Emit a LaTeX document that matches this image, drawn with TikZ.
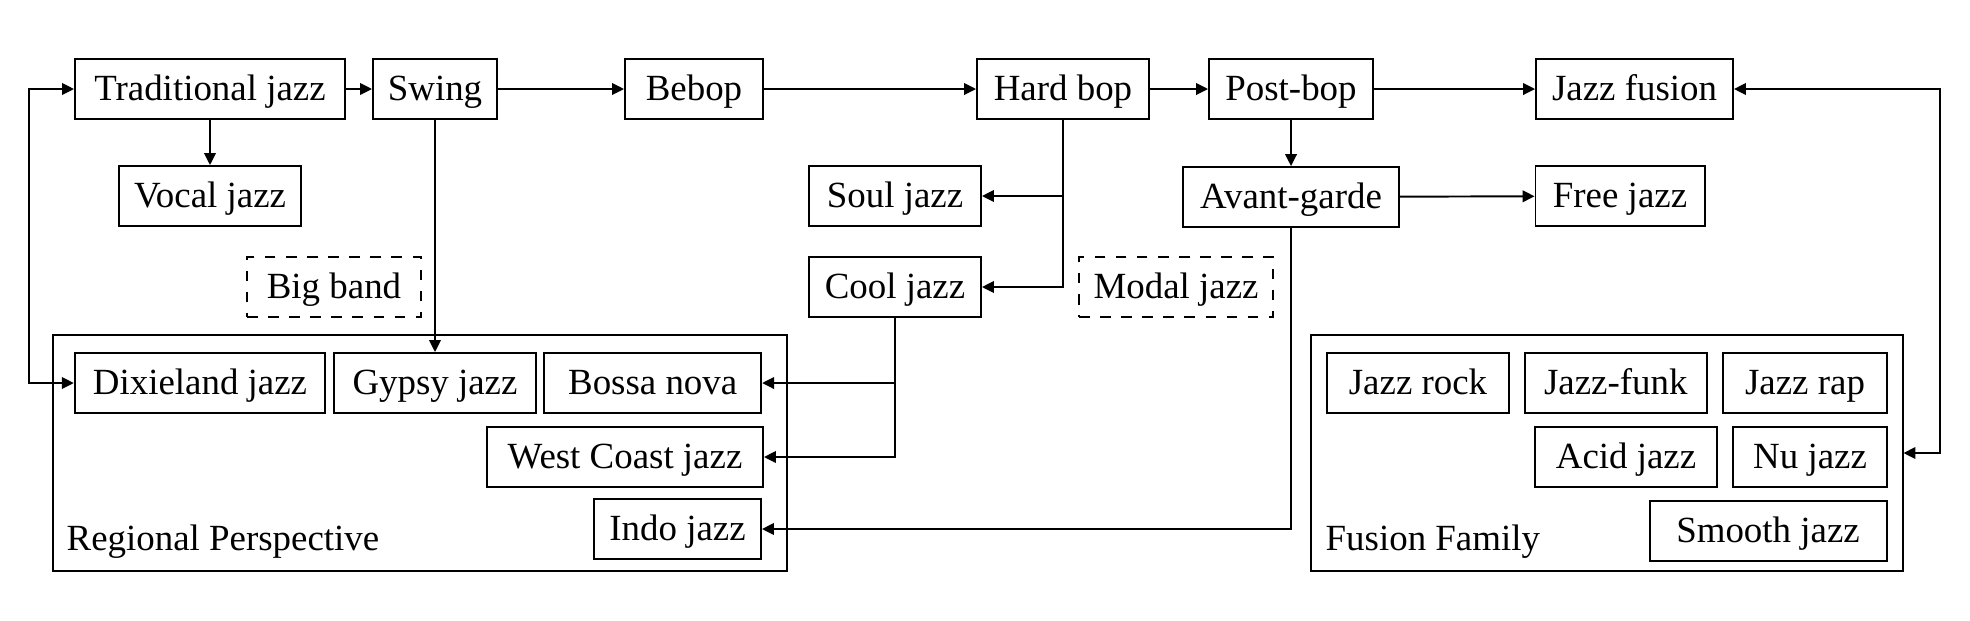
\documentclass[tikz,border=0pt]{standalone}
\usepackage{fontspec}
\setmainfont{Liberation Serif}
\usetikzlibrary{arrows.meta}

\begin{document}
\begin{tikzpicture}[
  genre/.style={draw, line width=0.55pt, minimum height=0.6cm, inner sep=0pt,
                text height=0.66em, text depth=0pt, font=\fontsize{10.5}{12}\selectfont},
  faint/.style={genre, dashed},
  family/.style={draw, line width=0.55pt, inner sep=0pt, minimum height=2.36cm},
  grouplabel/.style={anchor=base west, inner sep=0pt, font=\fontsize{10.5}{12}\selectfont},
  arrow/.style={-{Triangle[length=3.4pt,width=3.3pt]}, line width=0.55pt},
  twoway/.style={{Triangle[length=3.4pt,width=3.3pt]}-{Triangle[length=3.4pt,width=3.3pt]},
                 line width=0.55pt},
]
  \useasboundingbox (0,0) rectangle (19.70,-6.20);

  % main line
  \node[genre, minimum width=2.70cm] (trad) at (2.10,-0.89) {Traditional jazz};
  \node[genre, minimum width=1.24cm] (swing) at (4.35,-0.89) {Swing};
  \node[genre, minimum width=1.38cm] (bebop) at (6.94,-0.89) {Bebop};
  \node[genre, minimum width=1.72cm] (hardbop) at (10.63,-0.89) {Hard bop};
  \node[genre, minimum width=1.64cm] (postbop) at (12.91,-0.89) {Post-bop};
  \node[genre, minimum width=1.97cm] (fusion) at (16.345,-0.89) {Jazz fusion};

  \node[genre, minimum width=1.82cm] (vocal) at (2.10,-1.96) {Vocal jazz};
  \node[genre, minimum width=1.72cm] (soul) at (8.95,-1.96) {Soul jazz};
  \node[genre, minimum width=2.16cm] (avant) at (12.91,-1.97) {Avant-garde};
  \node[genre, minimum width=1.69cm] (free) at (16.20,-1.96) {Free jazz};

  \node[faint, minimum width=1.74cm] (bigband) at (3.34,-2.87) {Big band};
  \node[genre, minimum width=1.72cm] (cool) at (8.95,-2.87) {Cool jazz};
  \node[faint, minimum width=1.94cm] (modal) at (11.76,-2.87) {Modal jazz};

  % regional group
  \node[family, minimum width=7.34cm] (regional) at (4.20,-4.53) {};
  \node[genre, minimum width=2.505cm] (dixie) at (2.00,-3.83) {Dixieland jazz};
  \node[genre, minimum width=2.02cm] (gypsy) at (4.35,-3.83) {Gypsy jazz};
  \node[genre, minimum width=2.17cm] (bossa) at (6.527,-3.83) {Bossa nova};
  \node[genre, minimum width=2.76cm] (westcoast) at (6.25,-4.57) {West Coast jazz};
  \node[genre, minimum width=1.67cm] (indo) at (6.775,-5.29) {Indo jazz};
  \node[grouplabel] (reglabel) at (0.66,-5.50) {Regional Perspective};

  % fusion group
  \node[family, minimum width=5.915cm] (fusionfam) at (16.0675,-4.53) {};
  \node[genre, minimum width=1.82cm] (jrock) at (14.18,-3.83) {Jazz rock};
  \node[genre, minimum width=1.82cm] (jfunk) at (16.157,-3.83) {Jazz-funk};
  \node[genre, minimum width=1.64cm] (jrap) at (18.05,-3.83) {Jazz rap};
  \node[genre, minimum width=1.82cm] (acid) at (16.26,-4.57) {Acid jazz};
  \node[genre, minimum width=1.54cm] (nu) at (18.10,-4.57) {Nu jazz};
  \node[genre, minimum width=2.37cm] (smooth) at (17.68,-5.307) {Smooth jazz};
  \node[grouplabel] (fuslabel) at (13.25,-5.50) {Fusion Family};

  \draw[arrow] (trad) -- (swing);
  \draw[arrow] (swing) -- (bebop);
  \draw[arrow] (bebop) -- (hardbop);
  \draw[arrow] (hardbop) -- (postbop);
  \draw[arrow] (postbop) -- (fusion);
  \draw[arrow] (trad) -- (vocal);
  \draw[arrow] (swing) -- (gypsy);
  \draw[arrow] (hardbop.south) |- (soul.east);
  \draw[arrow] (hardbop.south) |- (cool.east);
  \draw[arrow] (postbop) -- (avant);
  \draw[arrow] (avant) -- (free);
  \draw[arrow] (cool.south) |- (bossa.east);
  \draw[arrow] (cool.south) |- (westcoast.east);
  \draw[arrow] (avant.south) |- (indo.east);
  \draw[twoway] (trad.west) -- ++(-0.446,0) |- (dixie.west);
  \draw[twoway] (fusion.east) -- ++(2.06,0) |- (fusionfam.east);
\end{tikzpicture}
\end{document}
